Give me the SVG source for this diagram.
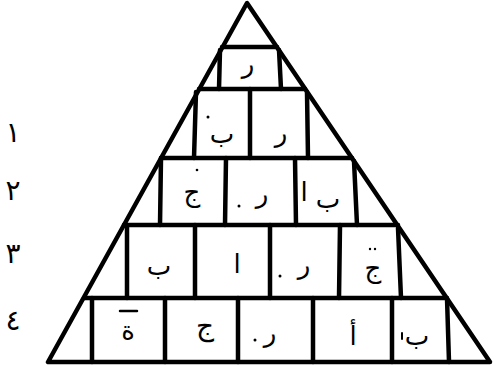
<svg xmlns="http://www.w3.org/2000/svg" width="494" height="371" viewBox="0 0 494 371">
<style>
.ln{stroke:#000;stroke-width:4.5;stroke-linecap:round;stroke-linejoin:round;fill:none}
.lt{font-family:"DejaVu Sans",sans-serif;font-size:26px;fill:#000;text-anchor:middle}
.num{font-family:"DejaVu Sans",sans-serif;font-size:28px;fill:#000;text-anchor:middle}
.dot{fill:#000}
</style>
<rect width="494" height="371" fill="#fff"/>
<g id="frame">
<polygon class="ln" points="247,3 48,362 490,362"/>
<line class="ln" x1="222" y1="47" x2="277" y2="47"/>
<line class="ln" x1="199" y1="89" x2="305" y2="89"/>
<line class="ln" x1="161" y1="158" x2="352" y2="158"/>
<line class="ln" x1="124" y1="225" x2="398" y2="225"/>
<line class="ln" x1="84" y1="298" x2="446" y2="298"/>
</g>
<g id="row0">
<line class="ln" x1="220" y1="50" x2="219" y2="89"/>
<line class="ln" x1="279" y1="50" x2="281" y2="89"/>
<text class="lt" x="248" y="73">ر</text>
</g>
<g id="row1">
<line class="ln" x1="196" y1="92" x2="194" y2="158"/>
<line class="ln" x1="250" y1="89" x2="250" y2="158"/>
<line class="ln" x1="307" y1="92" x2="308" y2="158"/>
<text class="lt" x="222" y="143">ب</text>
<circle class="dot" cx="208" cy="117" r="1.5"/>
<text class="lt" x="281" y="142">ر</text>
</g>
<g id="row2">
<line class="ln" x1="161" y1="158" x2="160" y2="225"/>
<line class="ln" x1="226" y1="158" x2="225" y2="225"/>
<line class="ln" x1="295" y1="158" x2="296" y2="225"/>
<line class="ln" x1="354" y1="161" x2="357" y2="225"/>
<text class="lt" x="192" y="201">ج</text>
<circle class="dot" cx="197" cy="170" r="1.3"/>
<circle class="dot" cx="239" cy="206" r="1.5"/>
<text class="lt" x="262" y="203">ر</text>
<text class="lt" x="304" y="201">ا</text>
<text class="lt" x="328" y="208">ب</text>
</g>
<g id="row3">
<line class="ln" x1="127" y1="225" x2="127" y2="298"/>
<line class="ln" x1="195" y1="225" x2="195" y2="298"/>
<line class="ln" x1="270" y1="225" x2="270" y2="298"/>
<line class="ln" x1="340" y1="225" x2="339" y2="298"/>
<line class="ln" x1="398" y1="228" x2="401" y2="298"/>
<text class="lt" x="159" y="275">ب</text>
<text class="lt" x="237" y="273">ا</text>
<circle class="dot" cx="280" cy="276" r="1.5"/>
<text class="lt" x="304" y="274">ر</text>
<text class="lt" x="373" y="277">ج</text>
<circle class="dot" cx="370" cy="249" r="1.2"/>
<circle class="dot" cx="375" cy="249" r="1.2"/>
</g>
<g id="row4">
<line class="ln" x1="92" y1="298" x2="92" y2="362"/>
<line class="ln" x1="165" y1="298" x2="165" y2="362"/>
<line class="ln" x1="238" y1="298" x2="238" y2="362"/>
<line class="ln" x1="313" y1="298" x2="313" y2="362"/>
<line class="ln" x1="392" y1="298" x2="392" y2="362"/>
<line class="ln" x1="447" y1="298" x2="449" y2="362"/>
<line class="ln" x1="120" y1="311" x2="137" y2="311" style="stroke-width:2.5"/>
<text class="lt" x="128" y="340">ة</text>
<text class="lt" x="205" y="335" style="font-size:28px">ج</text>
<circle class="dot" cx="255" cy="340" r="1.5"/>
<text class="lt" x="270" y="342">ر</text>
<text class="lt" x="353" y="345">أ</text>
<line class="ln" x1="402" y1="333" x2="402" y2="339" style="stroke-width:2"/>
<text class="lt" x="417" y="345">ب</text>
</g>
<g id="numbers">
<text class="num" x="13" y="142">١</text>
<text class="num" x="13" y="200">٢</text>
<text class="num" x="13" y="263">٣</text>
<text class="num" x="13" y="330">٤</text>
</g>
</svg>
